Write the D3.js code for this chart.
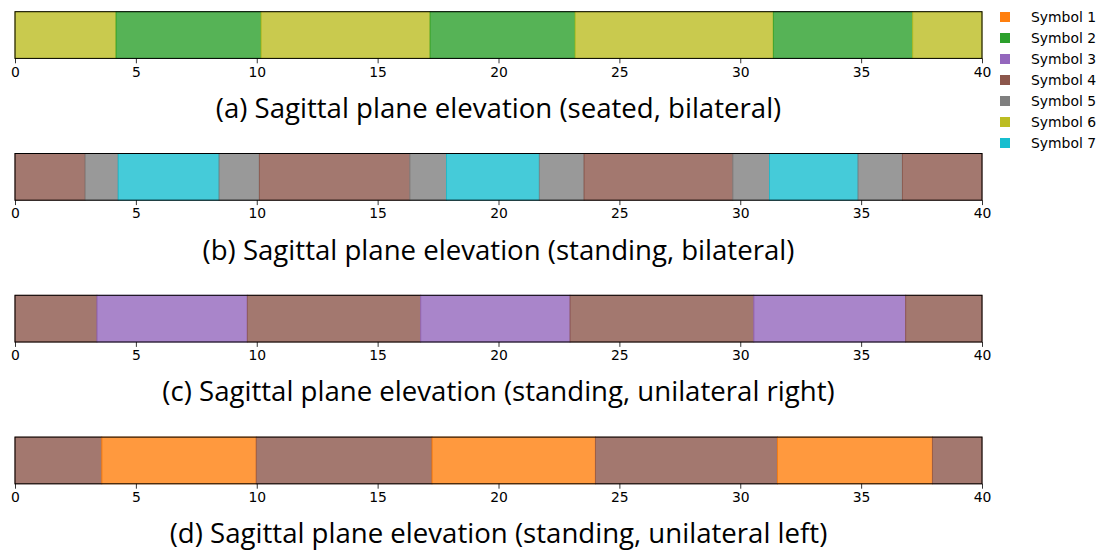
<!DOCTYPE html>
<html>
<head>
<meta charset="utf-8">
<script src="https://cdn.jsdelivr.net/npm/d3@7"></script>
<style>
  body { margin: 0; background: #fff; }
  svg { display: block; }
  .title { font-family: "Open Sans", sans-serif; font-size: 27.6px; fill: #000; }
  .legend text { font-family: "DejaVu Sans", sans-serif; font-size: 13.9px; fill: #000; }
</style>
</head>
<body>
<svg width="1102" height="550"></svg>
<script>
// symbol names and their colours (tab10 picks)
var symbols = ["Symbol 1", "Symbol 2", "Symbol 3", "Symbol 4", "Symbol 5", "Symbol 6", "Symbol 7"];
var symbolColors = ["#ff7f0e", "#2ca02c", "#9467bd", "#8c564b", "#7f7f7f", "#bcbd22", "#17becf"];

var titles = [
    "(a) Sagittal plane elevation (seated, bilateral)",
    "(b) Sagittal plane elevation (standing, bilateral)",
    "(c) Sagittal plane elevation (standing, unilateral right)",
    "(d) Sagittal plane elevation (standing, unilateral left)"
];

// segment boundaries (seconds) and the symbol index for each segment
var edgesA = [0, 4.18, 10.18, 17.17, 23.17, 31.37, 37.13, 40];
var symA   = [6, 2, 6, 2, 6, 2, 6];

var edgesB = [0, 2.90, 4.27, 8.44, 10.11, 16.33, 17.85, 21.69, 23.54, 29.69, 31.21, 34.87, 36.71, 40];
var symB   = [4, 5, 7, 5, 4, 5, 7, 5, 4, 5, 7, 5, 4];

var edgesC = [0, 3.39, 9.61, 16.78, 22.96, 30.56, 36.84, 40];
var symC   = [4, 3, 4, 3, 4, 3, 4];

var edgesD = [0, 3.59, 9.98, 17.25, 24.01, 31.54, 37.95, 40];
var symD   = [4, 1, 4, 1, 4, 1, 4];

var xTicks = [0, 5, 10, 15, 20, 25, 30, 35, 40];

var rows = [
    { edges: edgesA, sym: symA },
    { edges: edgesB, sym: symB },
    { edges: edgesC, sym: symC },
    { edges: edgesD, sym: symD }
];

var svg = d3.select("svg");
var left = 15, right = 982,
    rowTop = 11.7, rowStep = 141.8, rowH = 46.7;

var x = d3.scaleLinear().domain([0, 40]).range([left, right]);
var color = function(s) { return symbolColors[s - 1]; };

rows.forEach(function(row, i) {
    var top = rowTop + i * rowStep;
    var g = svg.append("g").attr("transform", "translate(0," + top + ")");

    var segs = d3.range(row.sym.length).map(function(k) {
        return { x0: row.edges[k], x1: row.edges[k + 1], s: row.sym[k] };
    });

    g.selectAll("rect.seg")
     .data(segs)
     .enter().append("rect")
        .attr("class", "seg")
        .attr("x", function(d) { return x(d.x0); })
        .attr("y", 0)
        .attr("width", function(d) { return x(d.x1) - x(d.x0); })
        .attr("height", rowH)
        .attr("fill", function(d) { return color(d.s); })
        .attr("fill-opacity", 0.8)
        .attr("stroke", function(d) { return color(d.s); })
        .attr("stroke-opacity", 0.8)
        .attr("stroke-width", 1);

    g.append("rect")
        .attr("x", left)
        .attr("y", 0)
        .attr("width", right - left)
        .attr("height", rowH)
        .attr("fill", "none")
        .attr("stroke", "#000")
        .attr("stroke-width", 1);

    var axis = d3.axisBottom(x).tickValues(xTicks).tickSize(4.9).tickPadding(3.5).tickFormat(d3.format("d"));
    var ax = g.append("g").attr("transform", "translate(0," + rowH + ")").call(axis);
    ax.attr("font-family", "DejaVu Sans, sans-serif").attr("font-size", 13.9);
    ax.select(".domain").remove();
    ax.selectAll(".tick line").attr("stroke", "#000").attr("stroke-width", 0.8);
    ax.selectAll(".tick text").attr("fill", "#000");

    svg.append("text")
        .attr("class", "title")
        .attr("x", (left + right) / 2)
        .attr("y", top + 106)
        .attr("text-anchor", "middle")
        .text(titles[i]);
});

var legend = svg.append("g").attr("class", "legend");
var li = legend.selectAll("g")
    .data(symbols)
    .enter().append("g")
        .attr("transform", function(d, i) { return "translate(1000," + (12 + i * 21) + ")"; });
li.append("rect")
    .attr("width", 10).attr("height", 10)
    .attr("fill", function(d, i) { return symbolColors[i]; });
li.append("text")
    .attr("x", 31)
    .attr("y", 5)
    .attr("dy", "0.35em")
    .text(function(d) { return d; });
</script>
</body>
</html>
